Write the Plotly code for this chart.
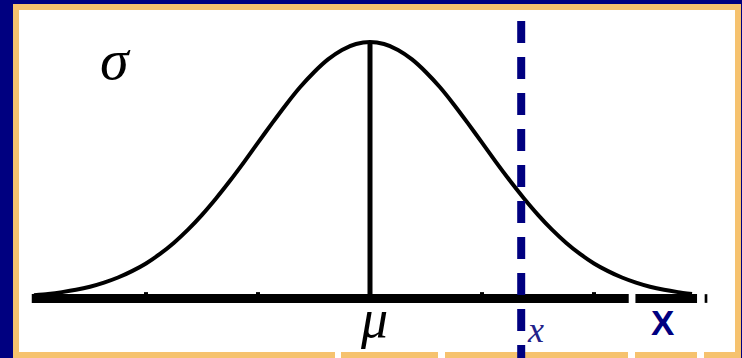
import plotly.graph_objects as go

# ---- data (in units of sigma) ----
mu = 0.0
x_mark = 1.35
curve_z = [-3.0, -2.875, -2.75, -2.625, -2.5, -2.375, -2.25, -2.125, -2.0, -1.875, -1.75, -1.625,
           -1.5, -1.375, -1.25, -1.125, -1.0, -0.875, -0.75, -0.625, -0.5, -0.375, -0.25, -0.125,
           0.0, 0.125, 0.25, 0.375, 0.5, 0.625, 0.75, 0.875, 1.0, 1.125, 1.25, 1.375,
           1.5, 1.625, 1.75, 1.875, 2.0, 2.125, 2.25, 2.375, 2.5, 2.625, 2.75, 2.875]
curve_h = [0.011, 0.016, 0.023, 0.032, 0.044, 0.06, 0.08, 0.105, 0.135, 0.172, 0.216, 0.267,
           0.325, 0.389, 0.458, 0.531, 0.607, 0.682, 0.755, 0.823, 0.882, 0.932, 0.969, 0.992,
           1.0, 0.992, 0.969, 0.932, 0.882, 0.823, 0.755, 0.682, 0.607, 0.531, 0.458, 0.389,
           0.325, 0.267, 0.216, 0.172, 0.135, 0.105, 0.08, 0.06, 0.044, 0.032, 0.023, 0.016]
tick_z = [-2, -1, 1, 2]
axis_start = -3.02
axis_end = 2.92
end_tick = 3.0
axis_gaps = [(2.31, 2.37)]
label_sigma = "σ"
label_mu = "μ"
label_x = "x"
label_X = "X"

NAVY = "#000080"
ORANGE = "#F6C26E"
W, H = 742, 358

def px(x):
    return x / W

def py(y):
    return 1 - y / H

fig = go.Figure()

fig.add_trace(go.Scatter(x=curve_z, y=curve_h, mode="lines",
                         line=dict(color="black", width=4, shape="spline", smoothing=0.6),
                         hoverinfo="skip", showlegend=False))

shapes = []
# frame: navy background, orange border, white panel
shapes.append(dict(type="rect", xref="paper", yref="paper", x0=px(13), x1=px(741), y0=py(358), y1=py(4),
                   fillcolor=ORANGE, line=dict(width=0), layer="below"))
shapes.append(dict(type="rect", xref="paper", yref="paper", x0=px(19), x1=px(735), y0=py(352), y1=py(10),
                   fillcolor="white", line=dict(width=0), layer="below"))
for a, b in [(335, 341), (438, 445), (628, 635), (697, 704)]:
    shapes.append(dict(type="rect", xref="paper", yref="paper", x0=px(a), x1=px(b), y0=py(358), y1=py(352),
                       fillcolor="white", line=dict(width=0), layer="below"))

# horizontal axis
shapes.append(dict(type="line", xref="x", yref="y", x0=axis_start, x1=axis_end, y0=-0.002, y1=-0.002,
                   line=dict(color="black", width=9)))
for a, b in axis_gaps:
    shapes.append(dict(type="rect", xref="x", yref="y", x0=a, x1=b, y0=-0.025, y1=0.02,
                       fillcolor="white", line=dict(width=0)))
shapes.append(dict(type="rect", xref="x", yref="y", x0=end_tick - 0.012, x1=end_tick + 0.012, y0=-0.019, y1=0.015,
                   fillcolor="black", line=dict(width=0)))
for t in tick_z:
    shapes.append(dict(type="rect", xref="x", yref="y", x0=t - 0.018, x1=t + 0.018, y0=0.0, y1=0.023,
                       fillcolor="black", line=dict(width=0)))

# mean line
shapes.append(dict(type="line", xref="x", yref="y", x0=mu, x1=mu, y0=0, y1=1.0,
                   line=dict(color="black", width=5)))
# dashed x line
shapes.append(dict(type="line", xref="x", yref="y", x0=x_mark, x1=x_mark, y0=1.082, y1=-0.26,
                   line=dict(color=NAVY, width=8, dash="22px,14px")))

fig.update_layout(shapes=shapes)

serif = "Liberation Serif"
fig.add_annotation(x=-2.27, y=0.93, xref="x", yref="y", text=label_sigma, showarrow=False,
                   font=dict(family=serif, size=58, color="black", style="italic"))
fig.add_annotation(x=0.04, y=-0.083, xref="x", yref="y", text=label_mu, showarrow=False,
                   font=dict(family=serif, size=54, color="black", style="italic"))
fig.add_annotation(x=1.48, y=-0.125, xref="x", yref="y", text=label_x, showarrow=False,
                   font=dict(family=serif, size=36, color="#22228a", style="italic"))
fig.add_annotation(x=2.62, y=-0.097, xref="x", yref="y", text=label_X, showarrow=False,
                   font=dict(family="Liberation Sans", size=35, color=NAVY, weight="bold"))

fig.update_xaxes(range=[-370 / 112, 372 / 112], visible=False, fixedrange=True)
fig.update_yaxes(range=[(298 - 358) / 256, 298 / 256], visible=False, fixedrange=True)
fig.update_layout(width=W, height=H, autosize=False, margin=dict(l=0, r=0, t=0, b=0, pad=0),
                  paper_bgcolor=NAVY, plot_bgcolor="rgba(0,0,0,0)", showlegend=False)

fig.write_html("out.html", config={"displayModeBar": False},
               post_script="document.body.style.margin='0px';document.body.style.overflow='hidden';")
